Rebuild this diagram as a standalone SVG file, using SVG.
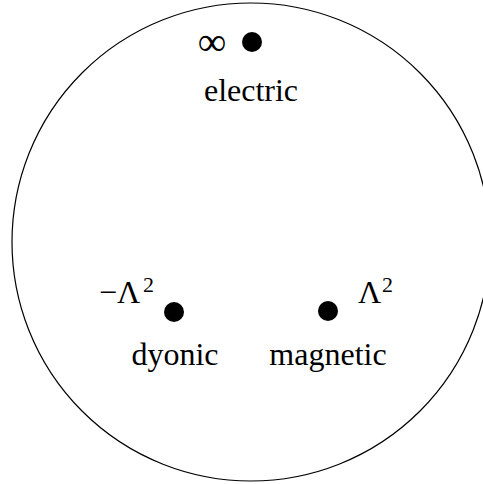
<svg xmlns="http://www.w3.org/2000/svg" width="483" height="484" viewBox="0 0 483 484">
<style>
.t{font-family:"Liberation Serif","Times New Roman",serif;font-size:32px;fill:#000}
.s{font-family:"Liberation Serif","Times New Roman",serif;font-size:22px;fill:#000}
.inf{font-family:"Liberation Serif","Times New Roman",serif;font-size:40px;fill:#000}
.dot{fill:#000}
</style>
<rect width="483" height="484" fill="#fff"/>
<circle cx="251" cy="242" r="239" fill="none" stroke="#000" stroke-width="1.2"/>
<g id="electric">
<circle class="dot" cx="252" cy="42" r="10"/>
<text class="inf" x="212" y="55" text-anchor="middle">∞</text>
<text class="t" x="251" y="101" text-anchor="middle">electric</text>
</g>
<g id="dyonic">
<circle class="dot" cx="174" cy="312" r="10"/>
<text class="t" x="99" y="303">−Λ</text>
<text class="s" x="143" y="292">2</text>
<text class="t" x="175" y="365" text-anchor="middle">dyonic</text>
</g>
<g id="magnetic">
<circle class="dot" cx="328" cy="311" r="10"/>
<text class="t" x="358" y="303">Λ</text>
<text class="s" x="382" y="292">2</text>
<text class="t" x="328" y="365" text-anchor="middle">magnetic</text>
</g>
<g id="connectors"/>
</svg>
